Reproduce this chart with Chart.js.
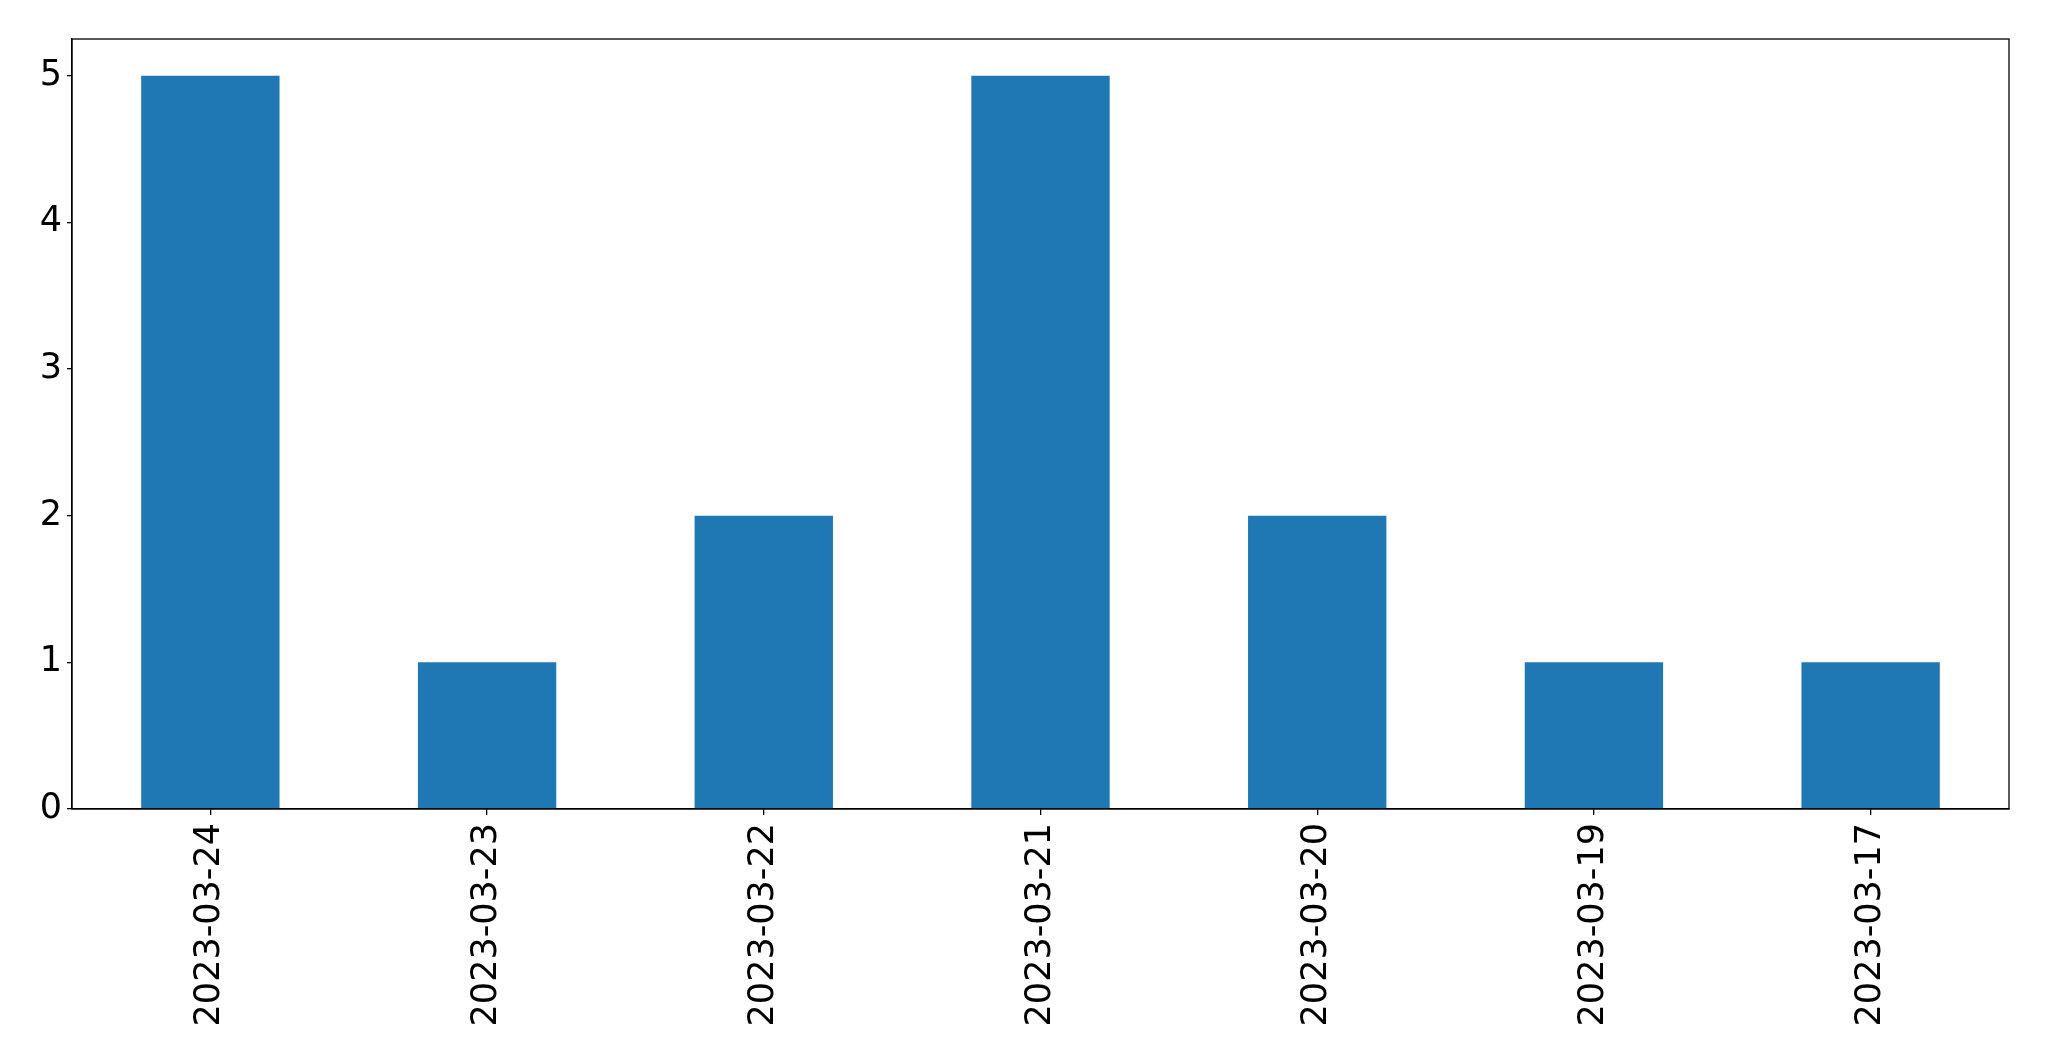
<!DOCTYPE html>
<html>
<head>
<meta charset="utf-8">
<script src="https://cdn.jsdelivr.net/npm/chart.js@4"></script>
<style>
  html, body { margin: 0; padding: 0; background: #fff; }
  #wrap { width: 2049px; height: 1061px; }
</style>
</head>
<body>
<div id="wrap"><canvas id="barChart" width="2049" height="1061"></canvas></div>
<script>
const dates = ['2023-03-24', '2023-03-23', '2023-03-22', '2023-03-21', '2023-03-20', '2023-03-19', '2023-03-17'];
const counts = [5, 1, 2, 5, 2, 1, 1];
const yTicks = [0, 1, 2, 3, 4, 5];

const tickFont = { family: 'DejaVu Sans', size: 35 };

// matplotlib-style box around the plot area
const frame = {
  id: 'frame',
  afterDraw(chart) {
    const { ctx, chartArea: a } = chart;
    ctx.save();
    ctx.strokeStyle = '#000';
    ctx.lineWidth = 1.3;
    ctx.strokeRect(a.left, a.top, a.right - a.left, a.bottom - a.top);
    ctx.restore();
  }
};

new Chart(document.getElementById('barChart'), {
  type: 'bar',
  data: {
    labels: dates,
    datasets: [{ data: counts, backgroundColor: '#1f77b4', borderWidth: 0, barPercentage: 0.5, categoryPercentage: 1.0 }]
  },
  options: {
    responsive: false,
    animation: false,
    layout: { padding: { top: 39, right: 40, left: 0, bottom: 0 } },
    plugins: { legend: { display: false }, tooltip: { enabled: false } },
    scales: {
      x: {
        offset: true,
        grid: { display: true, offset: false, drawOnChartArea: false, drawTicks: true, tickLength: 6, color: '#000', lineWidth: 1.3 },
        border: { display: true, color: '#000', width: 1.3 },
        ticks: { color: '#000', font: tickFont, minRotation: 90, maxRotation: 90, padding: 8, autoSkip: false },
        afterFit(scale) { scale.height = 252; }
      },
      y: {
        min: 0,
        max: 5.25,
        grid: { display: true, drawOnChartArea: false, drawTicks: true, tickLength: 5, color: '#000', lineWidth: 1.3 },
        border: { display: true, color: '#000', width: 1.3 },
        ticks: { color: '#000', font: tickFont, padding: 5 },
        afterBuildTicks(axis) { axis.ticks = yTicks.map(v => ({ value: v })); },
        afterFit(scale) { scale.width = 72; }
      }
    }
  },
  plugins: [frame]
});
</script>
</body>
</html>
